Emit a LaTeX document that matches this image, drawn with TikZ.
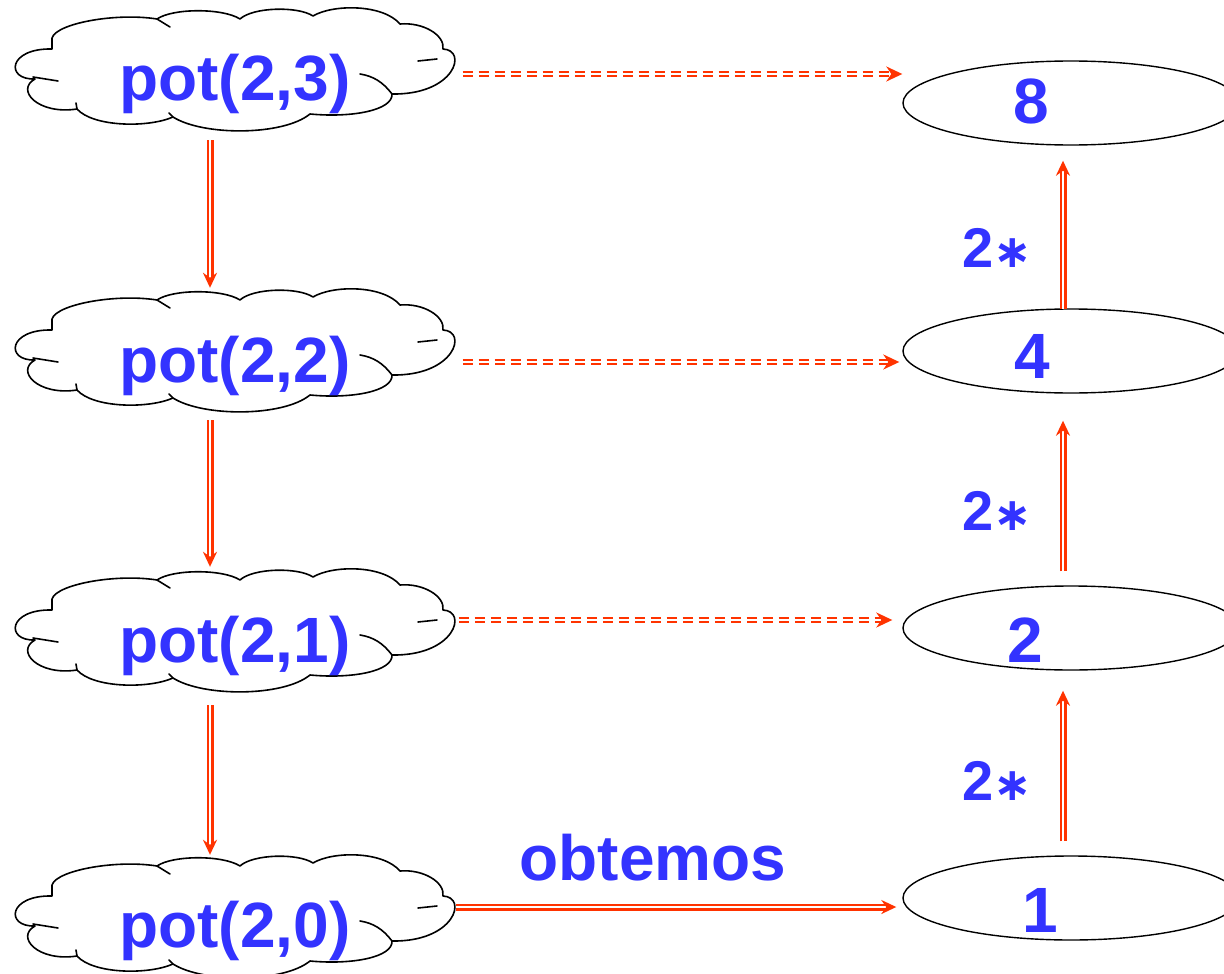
\documentclass[tikz,border=0pt]{standalone}
\usepackage{fontspec}
\setmainfont{Liberation Sans}
\newfontfamily\symfont{DejaVu Sans}
\usetikzlibrary{arrows.meta,calc,shapes.geometric}
\definecolor{txtblue}{RGB}{51,51,255}
\definecolor{arrred}{RGB}{255,51,0}

\begin{document}
\begin{tikzpicture}[x=1pt,y=-1pt,
  cloudline/.style={black, line width=1.6pt, line join=round, line cap=round},
  cloudbox/.style={inner sep=0pt, minimum width=437pt, minimum height=124pt},
  ovalnode/.style={draw=black, line width=1.4pt, ellipse, inner sep=0pt,
                   minimum width=336pt, minimum height=84pt},
  bigtext/.style={text=txtblue, font=\fontsize{64}{70}\selectfont\bfseries,
                  anchor=base, inner sep=0pt},
  startext/.style={text=txtblue, font=\fontsize{56}{60}\selectfont\bfseries,
                   anchor=base west, inner sep=0pt},
  dblarrow/.style={draw=arrred, double=white, double distance=2pt, line width=2.5pt,
                   -{Stealth[length=15pt,width=14pt,inset=5pt]}},
  dasharrow/.style={draw=arrred, double=white, double distance=2pt, line width=2pt,
                    dash pattern=on 10pt off 6pt,
                    -{Stealth[length=16pt,width=15pt,inset=5pt]}},
  pics/cloudshape/.style={code={
    \draw[cloudline]
      (-198,9) .. controls (-228,10) and (-225,-22) .. (-181,-21)
      -- (-181,-29) .. controls (-185,-45) and (-120,-58) .. (-76,-51)
      .. controls (-60,-62) and (-10,-62) .. (7,-51)
      .. controls (20,-63) and (65,-64) .. (80,-54)
      .. controls (100,-66) and (150,-66) .. (167,-46)
      .. controls (190,-48) and (212,-35) .. (210,-21)
      .. controls (235,-20) and (222,25) .. (159,24)
      .. controls (160,40) and (120,48) .. (77,44)
      .. controls (50,66) and (-30,66) .. (-60,47)
      .. controls (-85,58) and (-140,57) .. (-156,39)
      .. controls (-195,45) and (-218,20) .. (-198,9);
    \draw[cloudline] (-76,-51) -- (-63,-43);
    \draw[cloudline] (204,-11) -- (185,-9);
    \draw[cloudline] (159,24) .. controls (150,12) and (140,6) .. (127,4);
    \draw[cloudline] (-200,7) -- (-175,11);
    \draw[cloudline] (-156,39) -- (-157,33);
    \draw[cloudline] (-60,47) -- (-64,43);
  }}
]
\useasboundingbox (0,0) rectangle (1224,974);
\clip (0,0) rectangle (1224,974);
\fill[white] (0,0) rectangle (1224,974);

% clouds for the recursive calls
\foreach \nm/\cy in {c3/70, c2/351, c1/631, c0/917} {
  \node[cloudbox] (\nm) at (233,\cy) {};
  \pic at (\nm.center) {cloudshape};
}
\node[bigtext] (t3) at (235,100) {pot(2,3)};
\node[bigtext] (t2) at (235,382) {pot(2,2)};
\node[bigtext] (t1) at (235,662) {pot(2,1)};
\node[bigtext] (t0) at (235,947) {pot(2,0)};

% result ovals
\node[ovalnode] (e8) at (1071,103) {};
\node[ovalnode] (e4) at (1071,351) {};
\node[ovalnode] (e2) at (1071,628) {};
\node[ovalnode] (e1) at (1071,898) {};
\node[bigtext] (v8) at (1031,123) {8};
\node[bigtext] (v4) at (1032,378) {4};
\node[bigtext] (v2) at (1025,662) {2};
\node[bigtext] (v1) at (1040,932) {1};

% multiplier labels
\node[startext] (m3) at (962,267) {2{\symfont\fontsize{46}{50}\selectfont ∗}};
\node[startext] (m2) at (962,530) {2{\symfont\fontsize{46}{50}\selectfont ∗}};
\node[startext] (m1) at (962,800) {2{\symfont\fontsize{46}{50}\selectfont ∗}};
\node[bigtext] (ob) at (653,880) {obtemos};

% descending calls
\draw[dblarrow] ($(c3.south)+(-23,8)$) -- ($(c2.north)+(-23,-1)$);
\draw[dblarrow] ($(c2.south)+(-23,7)$) -- ($(c1.north)+(-23,-2)$);
\draw[dblarrow] ($(c1.south)+(-23,12)$) -- ($(c0.north)+(-23,0)$);

% pending results
\coordinate (s3) at ($(c3.east)+(11,4)$);
\coordinate (s2) at ($(c2.east)+(11,11)$);
\coordinate (s1) at ($(c1.east)+(7,-11)$);
\coordinate (s0) at ($(c0.east)+(4,-10)$);
\draw[dasharrow] (s3) -- (s3 -| e8.west);
\draw[dasharrow] (s2) -- ($(s2 -| e4.west)+(-3,0)$);
\draw[dasharrow] (s1) -- ($(s1 -| e2.west)+(-10,0)$);
\draw[dblarrow] (s0) -- ($(s0 -| e1.west)+(-6,0)$);

% ascending results
\draw[dblarrow] ($(e4.north)+(-8,1)$) -- ($(e8.south)+(-8,15)$);
\draw[dblarrow] ($(e2.north)+(-8,-14)$) -- ($(e4.south)+(-8,27)$);
\draw[dblarrow] ($(e1.north)+(-8,-14)$) -- ($(e2.south)+(-8,20)$);
\end{tikzpicture}
\end{document}
